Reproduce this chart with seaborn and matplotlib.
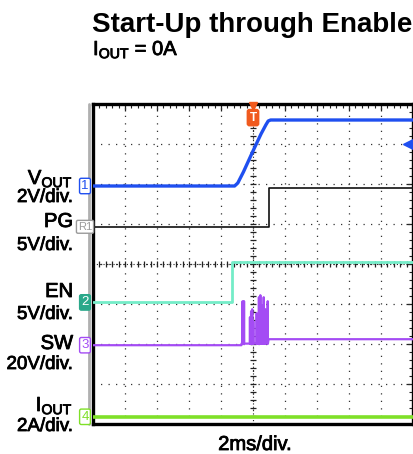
import numpy as np
import pandas as pd
import matplotlib
matplotlib.use("Agg")
import matplotlib.pyplot as plt
import matplotlib.patheffects as pe
from matplotlib.ticker import MultipleLocator
import seaborn as sns

# ============================================
# DATA (read off the scope shot)
# time in ms, trigger at 0, 2 ms/div
# ============================================
vout_t = [-10, -1.15, -0.95, -0.6, 0.0, 0.5, 0.8, 0.95, 1.1, 10]
vout_v = [0, 0, 0.15, 0.7, 1.75, 2.6, 3.05, 3.25, 3.3, 3.3]

pg_t = [-10, 1.0, 1.0, 10]
pg_v = [0, 0, 4.85, 4.85]

en_t = [-10, -1.3, -1.3, 10]
en_v = [0, 0, 5.0, 5.0]

# SW: burst of switching spikes during soft start, then idle level
sw_spike_t = [-0.65, -0.56, -0.19, -0.12, -0.05, 0.02, 0.23, 0.3, 0.37, 0.46,
              0.52, 0.56, 0.67, 0.72, 0.77, 0.92]
sw_spike_v = [22, 22, 14, 17, 18, 12, 16, 10, 24, 25, 14, 20, 24, 12, 18, 22]
sw_burst_start = -0.72
sw_burst_end = 0.97
sw_burst_base = 0.8
sw_idle = 3.0

iout_t = [-10, 10]
iout_a = [0, 0]

# channel: (offset in div, volts per div, colour, line width)
channels = {
    "VOUT": (5.95, 2, "#1f4ff0", 2.4),
    "PG": (4.93, 5, "#111111", 1.2),
    "EN": (3.04, 5, "#74ecc8", 2.0),
    "SW": (1.97, 20, "#a44cf4", 1.6),
    "IOUT": (0.18, 2, "#7fe028", 2.6),
}

# build SW series
sw_t = [-10, sw_burst_start, sw_burst_start]
sw_v = [0, 0, sw_burst_base]
for t, h in zip(sw_spike_t, sw_spike_v):
    sw_t += [t - 0.012, t, t + 0.012]
    sw_v += [sw_burst_base, h, sw_burst_base]
sw_t += [sw_burst_end, 10]
sw_v += [sw_idle, sw_idle]

traces = {
    "VOUT": (vout_t, vout_v),
    "PG": (pg_t, pg_v),
    "EN": (en_t, en_v),
    "SW": (sw_t, sw_v),
    "IOUT": (iout_t, iout_a),
}

# ============================================
# FIGURE
# ============================================
sns.set_style("white")
plt.rcParams['font.family'] = ['Liberation Sans', 'DejaVu Sans']
plt.rcParams['mathtext.fontset'] = 'custom'
plt.rcParams['mathtext.rm'] = 'Liberation Sans'
plt.rcParams['text.color'] = 'black'

W, H = 414, 454
fig = plt.figure(figsize=(W / 100, H / 100), dpi=100)
ax = fig.add_axes([93 / W, (H - 424) / H, 320 / W, 320 / H])

# regular text drawn a touch heavier, like the scan
heavy = [pe.withStroke(linewidth=0.6, foreground="black")]


def px(x, y):
    return x / W, 1 - y / H


# grid
for k in range(1, 10):
    ax.axvline(-10 + 2 * k, color="#333333", lw=0.9, ls=(0, (1, 5)), zorder=1)
for k in range(1, 8):
    ax.axhline(k, color="#333333", lw=0.9, ls=(0, (1, 5)), zorder=1)

# centre crosshair with minor marks
ax.axvline(0, color="#222222", lw=0.8, ls=(0, (1, 2)), zorder=1)
ax.axhline(4, color="#222222", lw=0.8, ls=(0, (1, 2)), zorder=1)
ym = np.arange(0.2, 8, 0.2)
ax.plot(np.zeros_like(ym), ym, ls="none", marker="_", ms=5, mew=0.9, color="#222222", zorder=1)
xm = np.arange(-9.6, 10, 0.4)
ax.plot(xm, np.full_like(xm, 4), ls="none", marker="|", ms=5, mew=0.9, color="#222222", zorder=1)

# traces
for name, (t, v) in traces.items():
    off, scale, col, lw = channels[name]
    df = pd.DataFrame({"t": t, "div": off + np.asarray(v, float) / scale})
    sns.lineplot(data=df, x="t", y="div", ax=ax, color=col, lw=lw,
                 estimator=None, sort=False, zorder=3)

ax.set_xlim(-10, 10)
ax.set_ylim(0, 8)
ax.set_xlabel("")
ax.set_ylabel("")
ax.xaxis.set_major_locator(MultipleLocator(2))
ax.xaxis.set_minor_locator(MultipleLocator(0.4))
ax.yaxis.set_major_locator(MultipleLocator(1))
ax.yaxis.set_minor_locator(MultipleLocator(0.2))
ax.tick_params(which="both", direction="in", top=True, bottom=False, left=False, right=True,
               labelbottom=False, labelleft=False, color="#222222")
ax.tick_params(which="major", length=5, width=0.9)
ax.tick_params(which="minor", length=3, width=0.8)
for side, sp in ax.spines.items():
    sp.set_color("black")
    sp.set_linewidth(2.4)

# light grey strip just left of the frame
ax.axvline(-10.22, color="#b0b0b0", lw=2, clip_on=False, zorder=0)

# channel markers on the left edge
ytr = ax.get_yaxis_transform()
markers = [
    ("1", 5.95, "#1f4ff0", "white"),
    ("R1", 4.93, "#9a9a9a", "white"),
    ("2", 3.04, "#2aa88a", "#2aa88a"),
    ("3", 1.97, "#a44cf4", "white"),
    ("4", 0.18, "#7fe028", "white"),
]
for lab, y, ec, fc in markers:
    tc = "white" if fc != "white" else ec
    ax.text(-0.025, y, lab, transform=ytr, ha="center", va="center",
            fontsize=8 if len(lab) > 1 else 9.5,
            color=tc, clip_on=False,
            bbox=dict(boxstyle="round,pad=0.13", fc=fc, ec=ec, lw=1.0))

# trigger position marker and trigger level arrow
ax.plot([0], [7.95], marker="v", ms=6, color="#f05a1e", clip_on=False, zorder=5)
ax.text(0, 7.66, "T", ha="center", va="center", fontsize=8.5, color="white", zorder=5,
        fontweight="bold",
        bbox=dict(boxstyle="round,pad=0.18", fc="#f05a1e", ec="#f05a1e"))
ax.plot([9.7], [7.0], marker="<", ms=7, color="#1f4ff0", zorder=5)

# titles
fig.text(*px(92, 32), "Start-Up through Enable", fontsize=20, fontweight="bold", va="baseline")
fig.text(*px(93, 55), r"$\mathregular{I_{OUT}}$ = 0A", fontsize=14.5, va="baseline",
         path_effects=heavy)

# channel labels
labels = [
    (r"$\mathregular{V_{OUT}}$", 184, 14.5),
    ("2V/div.", 202, 13.5),
    ("PG", 227, 14.5),
    ("5V/div.", 250, 13.5),
    ("EN", 297, 14.5),
    ("5V/div.", 319, 13.5),
    ("SW", 349, 14.5),
    ("20V/div.", 369, 13.5),
    (r"$\mathregular{I_{OUT}}$", 411, 14.5),
    ("2A/div.", 431, 13.5),
]
for txt, y, fs in labels:
    fig.text(*px(73, y), txt, fontsize=fs, ha="right", va="baseline", path_effects=heavy)

fig.text(*px(255, 450), "2ms/div.", fontsize=14.5, ha="center", va="baseline",
         path_effects=heavy)

fig.savefig("out.png", dpi=100)
